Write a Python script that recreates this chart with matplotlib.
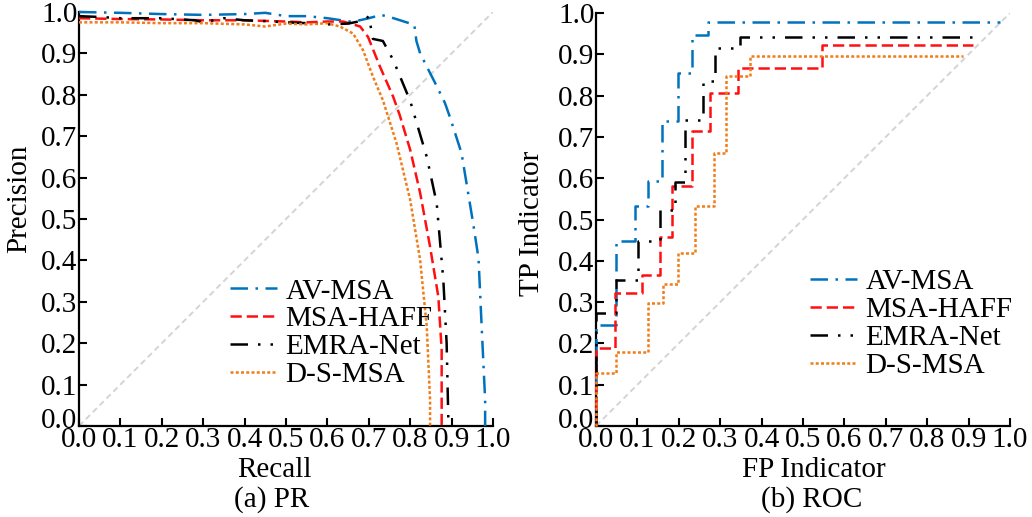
import matplotlib
matplotlib.use("Agg")
import matplotlib.pyplot as plt
import matplotlib.transforms as mtransforms

# ---- data ----
methods = ["AV-MSA", "MSA-HAFF", "EMRA-Net", "D-S-MSA"]

# PR curves (recall, precision)
pr_av_recall = [0, 0.1, 0.2, 0.3, 0.4, 0.45, 0.5, 0.55, 0.6, 0.66, 0.7, 0.73, 0.76, 0.81,
                0.815, 0.824, 0.865, 0.884, 0.896, 0.924, 0.952, 0.965, 0.973, 0.981, 0.981]
pr_av_precision = [1.0, 0.998, 0.995, 0.993, 0.995, 0.998, 0.99, 0.99, 0.985, 0.976, 0.985, 0.993,
                   0.985, 0.969, 0.93, 0.90, 0.819, 0.78, 0.746, 0.659, 0.49, 0.405, 0.232, 0.063, 0.0]

pr_haff_recall = [0, 0.1, 0.2, 0.3, 0.4, 0.5, 0.55, 0.6, 0.638, 0.679, 0.698, 0.727, 0.759,
                  0.775, 0.80, 0.824, 0.848, 0.868, 0.876, 0.876]
pr_haff_precision = [0.985, 0.983, 0.982, 0.98, 0.98, 0.977, 0.975, 0.977, 0.977, 0.965, 0.94,
                     0.868, 0.795, 0.75, 0.667, 0.563, 0.433, 0.312, 0.184, 0.0]

pr_emra_recall = [0, 0.05, 0.1, 0.2, 0.28, 0.3, 0.35, 0.4, 0.45, 0.5, 0.55, 0.6, 0.65, 0.69,
                  0.70, 0.71, 0.734, 0.759, 0.80, 0.84, 0.864, 0.88, 0.888, 0.892, 0.892]
pr_emra_precision = [0.99, 0.988, 0.985, 0.985, 0.98, 0.975, 0.985, 0.98, 0.978, 0.975, 0.973,
                     0.97, 0.972, 0.98, 0.99, 0.935, 0.93, 0.884, 0.785, 0.65, 0.538, 0.353,
                     0.2, 0.02, 0.0]

pr_ds_recall = [0, 0.1, 0.2, 0.3, 0.4, 0.45, 0.5, 0.55, 0.599, 0.63, 0.662, 0.686, 0.71,
                0.734, 0.767, 0.80, 0.824, 0.84, 0.848, 0.848]
pr_ds_precision = [0.975, 0.975, 0.973, 0.973, 0.97, 0.965, 0.972, 0.97, 0.973, 0.965, 0.948,
                   0.908, 0.844, 0.787, 0.683, 0.546, 0.401, 0.24, 0.063, 0.0]

# ROC step curves (fpr, tpr), drawn as steps-post
roc_av_fpr = [0, 0, 0.048, 0.094, 0.126, 0.159, 0.199, 0.231, 0.271, 0.975]
roc_av_tpr = [0, 0.245, 0.449, 0.533, 0.594, 0.738, 0.854, 0.947, 0.977, 0.977]

roc_haff_fpr = [0, 0, 0.046, 0.11, 0.155, 0.183, 0.231, 0.275, 0.344, 0.545, 0.911]
roc_haff_tpr = [0, 0.188, 0.321, 0.366, 0.458, 0.58, 0.715, 0.807, 0.866, 0.922, 0.922]

roc_emra_fpr = [0, 0, 0.048, 0.102, 0.155, 0.19, 0.215, 0.259, 0.287, 0.348, 0.928]
roc_emra_tpr = [0, 0.273, 0.353, 0.449, 0.523, 0.591, 0.741, 0.836, 0.915, 0.941, 0.941]

roc_ds_fpr = [0, 0, 0.048, 0.126, 0.163, 0.199, 0.239, 0.284, 0.314, 0.372, 0.887]
roc_ds_tpr = [0, 0.128, 0.178, 0.297, 0.343, 0.42, 0.533, 0.66, 0.847, 0.897, 0.897]

ticks = [0.0, 0.1, 0.2, 0.3, 0.4, 0.5, 0.6, 0.7, 0.8, 0.9, 1.0]

# ---- styles ----
colors = ["#0072BD", "#FF1010", "#000000", "#F07D1A"]
dashes = [(7, 3, 1, 3), (4.5, 2), (7, 4, 1, 4, 1, 4), (1.2, 0.9)]
FS = 21

plt.rcParams["font.family"] = ["Liberation Serif", "DejaVu Serif"]
plt.rcParams["font.size"] = FS

fig = plt.figure(figsize=(10.32, 5.17), dpi=100)
W, H = 1032, 517
ax1 = fig.add_axes([79 / W, (H - 426) / H, 414 / W, 414 / H])
ax2 = fig.add_axes([596 / W, (H - 426) / H, 414 / W, 413 / H])


def style_axis(ax):
    for s in ("top", "right"):
        ax.spines[s].set_visible(False)
    for s in ("left", "bottom"):
        ax.spines[s].set_linewidth(1.6)
    ax.set_xlim(0, 1)
    ax.set_ylim(0, 1)
    ax.set_xticks(ticks)
    ax.set_yticks(ticks)
    ax.set_xticklabels([f"{t:.1f}" for t in ticks])
    ax.set_yticklabels([f"{t:.1f}" for t in ticks])
    ax.tick_params(direction="in", length=6, width=1.5, labelsize=FS, pad=1)
    # the two "0.0" labels crowd each other in the corner; lift the y one a little
    lab = ax.get_yticklabels()[0]
    lab.set_transform(lab.get_transform() +
                      mtransforms.ScaledTranslation(0, 8 / 100, fig.dpi_scale_trans))
    ax.plot([0, 1], [0, 1], color="#d4d4d4", lw=1.4, dashes=(3, 2), zorder=1)


def add_legend(ax, anchor):
    ax.legend(loc="upper left", bbox_to_anchor=anchor, frameon=False, fontsize=FS,
              handlelength=1.6, handletextpad=0.3, labelspacing=0.05, borderaxespad=0,
              borderpad=0)


pr_data = [(pr_av_recall, pr_av_precision), (pr_haff_recall, pr_haff_precision),
           (pr_emra_recall, pr_emra_precision), (pr_ds_recall, pr_ds_precision)]
roc_data = [(roc_av_fpr, roc_av_tpr), (roc_haff_fpr, roc_haff_tpr),
            (roc_emra_fpr, roc_emra_tpr), (roc_ds_fpr, roc_ds_tpr)]

style_axis(ax1)
for (x, y), name, c, d in zip(pr_data, methods, colors, dashes):
    ax1.plot(x, y, color=c, lw=1.8, dashes=d, label=name, clip_on=False, zorder=3)
ax1.set_xlabel("Recall", fontsize=FS)
ax1.xaxis.set_label_coords(0.473, -0.075)
ax1.set_ylabel("Precision", fontsize=FS)
ax1.yaxis.set_label_coords(-0.112, 0.55)
add_legend(ax1, (0.365, 0.357))

style_axis(ax2)
for (x, y), name, c, d in zip(roc_data, methods, colors, dashes):
    ax2.plot(x, y, color=c, lw=1.8, dashes=d, label=name, drawstyle="steps-post",
             clip_on=False, zorder=3)
ax2.set_xlabel("FP Indicator", fontsize=FS)
ax2.xaxis.set_label_coords(0.527, -0.075)
ax2.set_ylabel("TP Indicator", fontsize=FS)
ax2.yaxis.set_label_coords(-0.124, 0.49)
add_legend(ax2, (0.517, 0.38))

fig.text(272 / W, 1 - 500 / H, "(a) PR", ha="center", va="center", fontsize=FS)
fig.text(812 / W, 1 - 500 / H, "(b) ROC", ha="center", va="center", fontsize=FS)

fig.savefig("out.png", dpi=100)
